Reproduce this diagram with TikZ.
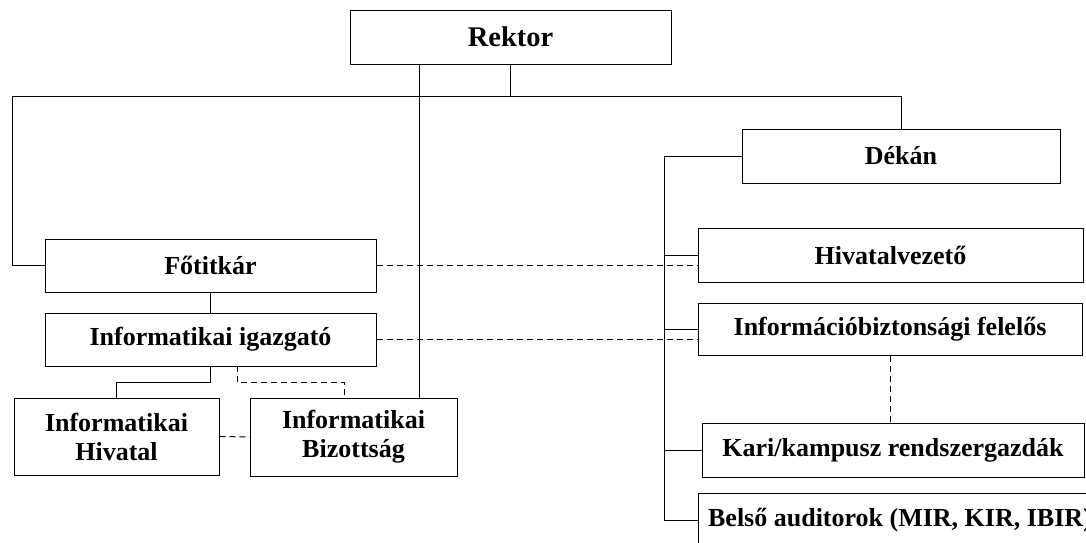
\documentclass[tikz,border=0pt]{standalone}
\usepackage{fontspec}
\setmainfont{Liberation Serif}
\usetikzlibrary{calc}
\begin{document}
\begin{tikzpicture}[x=1pt,y=-1pt,
  box/.style={draw=black,line width=1pt,fill=white,inner sep=0pt,align=center,
    font=\fontsize{26}{29}\selectfont\bfseries},
  conn/.style={line width=1pt,draw=black},
  dconn/.style={line width=1pt,draw=black,dash pattern=on 6pt off 4pt}]
\useasboundingbox (0,0) rectangle (1086,542);
\clip (0,0) rectangle (1086,542);
% nodes
\node[box,minimum width=321pt,minimum height=54pt,font=\fontsize{28.5}{32}\selectfont\bfseries] (rektor) at (510.5,37) {Rektor};
\node[box,minimum width=331pt,minimum height=53pt] (fotitkar) at (210.5,265.5) {Főtitkár};
\node[box,minimum width=331pt,minimum height=53pt] (igazgato) at (210.5,339.5) {Informatikai igazgató};
\node[box,minimum width=205pt,minimum height=77pt] (hivatal) at (116.5,436.5) {Informatikai\\Hivatal};
\node[box,minimum width=207pt,minimum height=78pt] (bizottsag) at (353.5,437) {Informatikai\\Bizottság};
\node[box,minimum width=318pt,minimum height=54pt] (dekan) at (901,156) {Dékán};
\node[box,minimum width=385pt,minimum height=54pt] (hivvez) at (890.5,255) {Hivatalvezető};
\node[box,minimum width=384pt,minimum height=52pt] (infobizt) at (890,329) {Információbiztonsági felelős};
\node[box,minimum width=382pt,minimum height=54pt] (kari) at (893,450) {Kari/kampusz rendszergazdák};
\node[box,minimum width=404pt,minimum height=54pt] (belso) at (900,520) {Belső auditorok (MIR, KIR, IBIR)};
% coordinates
\coordinate (top) at (510,96);
\coordinate (tl) at (12,96);
\coordinate (tr) at (901,96);
\coordinate (trunkb) at (664,520);
\coordinate (rb) at (419,64);
\coordinate (ig1) at (237,366);
\coordinate (bz1) at (344,398);
% solid connectors
\draw[conn] (rektor.south -| top) -- (top);
\draw[conn] (tl) -- (tr);
\draw[conn] (tl) |- (fotitkar.west);
\draw[conn] (tr) -- (dekan.north);
\draw[conn] (rb) -- (rb |- bizottsag.north);
\draw[conn] (fotitkar.south) -- (igazgato.north);
\draw[conn] (igazgato.south) -- ++(0,16) -| (hivatal.north);
\draw[conn] (dekan.west) -| (trunkb) -- (belso.west);
\draw[conn] (trunkb |- hivvez.west) -- (hivvez.west);
\draw[conn] (trunkb |- infobizt.west) -- (infobizt.west);
\draw[conn] (trunkb |- kari.west) -- (kari.west);
% dashed connectors
\draw[dconn] (fotitkar.east) -- (fotitkar.east -| hivvez.west);
\draw[dconn] (igazgato.east) -- (igazgato.east -| infobizt.west);
\draw[dconn] (hivatal.east) -- (bizottsag.west);
\draw[dconn] (ig1) -- ++(0,16) -| (bz1);
\draw[dconn] (infobizt.south) -- (kari.north -| infobizt.south);
\end{tikzpicture}
\end{document}
